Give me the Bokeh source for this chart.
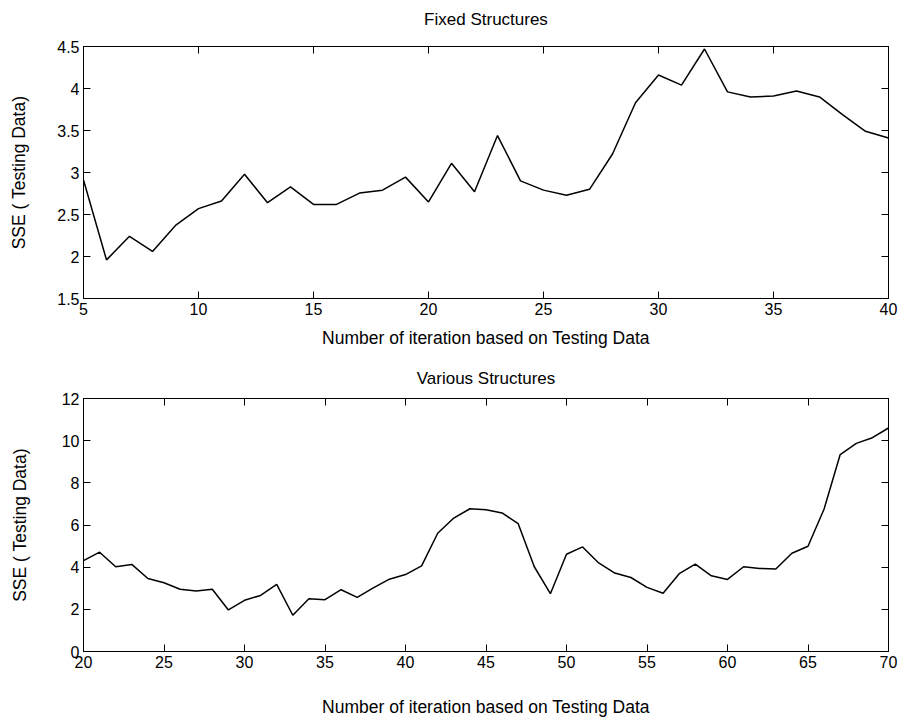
from bokeh.plotting import figure
from bokeh.models import Range1d, LinearAxis, FixedTicker, CustomJSTickFormatter
from bokeh.layouts import column
from bokeh.embed import file_html
from bokeh.resources import INLINE

# ---------------- data ----------------
fixed_title = "Fixed Structures"
fixed_iter = list(range(5, 41))
fixed_sse = [2.91, 1.96, 2.24, 2.06, 2.37, 2.57, 2.66, 2.98, 2.64, 2.83,
             2.62, 2.62, 2.755, 2.79, 2.945, 2.65, 3.11, 2.77,
             3.44, 2.90, 2.79, 2.73, 2.80, 3.22, 3.83, 4.16, 4.04, 4.47,
             3.96, 3.90, 3.91, 3.97, 3.90, 3.69, 3.49, 3.41]
fixed_xticks = [5, 10, 15, 20, 25, 30, 35, 40]
fixed_yticks = [1.5, 2, 2.5, 3, 3.5, 4, 4.5]

various_title = "Various Structures"
various_iter = list(range(20, 71))
various_sse = [4.31, 4.71, 4.02, 4.13, 3.46, 3.26, 2.95, 2.87, 2.95, 1.97,
               2.43, 2.66, 3.18, 1.72, 2.50, 2.46, 2.93, 2.57, 3.02, 3.43,
               3.65, 4.06, 5.61, 6.33, 6.77,
               6.72, 6.57, 6.06, 4.02, 2.74, 4.61, 4.96, 4.20, 3.72, 3.51,
               3.04, 2.76, 3.69, 4.14, 3.59, 3.42, 4.02, 3.94, 3.91, 4.66,
               4.99, 6.76, 9.34, 9.87, 10.14, 10.60]
various_xticks = [20, 25, 30, 35, 40, 45, 50, 55, 60, 65, 70]
various_yticks = [0, 2, 4, 6, 8, 10, 12]

x_label = "Number of iteration based on Testing Data"
y_label = "SSE ( Testing Data)"

FONT = "Liberation Sans"


def make_panel(title, xs, ys, xticks, yticks, height, top, bottom,
               title_standoff, xlabel_standoff, ylabel_standoff):
    p = figure(width=898, height=height, output_backend="svg",
               toolbar_location=None, tools="",
               x_range=Range1d(xticks[0], xticks[-1]),
               y_range=Range1d(yticks[0], yticks[-1]),
               min_border_left=83, min_border_right=10,
               min_border_top=top, min_border_bottom=bottom)
    p.background_fill_color = "white"
    p.border_fill_color = "white"
    p.outline_line_color = "black"
    p.xgrid.visible = False
    p.ygrid.visible = False

    fmt = CustomJSTickFormatter(code="return tick.toString();")
    blank = CustomJSTickFormatter(code="return '';")

    p.line(xs, ys, line_color="black", line_width=1.5)

    # mirrored axes (ticks only); the top one carries the panel title
    top_axis = LinearAxis()
    right_axis = LinearAxis()
    p.add_layout(top_axis, "above")
    p.add_layout(right_axis, "right")

    for ax in p.xaxis:
        ax.ticker = FixedTicker(ticks=xticks)
    for ax in p.yaxis:
        ax.ticker = FixedTicker(ticks=yticks)

    for ax in p.axis:
        ax.formatter = fmt
        ax.axis_line_color = "black"
        ax.axis_line_width = 1
        ax.major_tick_line_color = "black"
        ax.major_tick_in = 7
        ax.major_tick_out = 0
        ax.minor_tick_line_color = None
        ax.major_label_text_font = FONT
        ax.major_label_text_font_size = "16px"
        ax.major_label_text_color = "black"
        ax.major_label_standoff = 4
        ax.axis_label_text_font = FONT
        ax.axis_label_text_font_size = "17.5px"
        ax.axis_label_text_font_style = "normal"
        ax.axis_label_text_color = "black"

    for ax in (top_axis, right_axis):
        ax.formatter = blank
        ax.major_label_standoff = 0

    top_axis.axis_label = title
    top_axis.axis_label_text_font_size = "17px"
    top_axis.axis_label_standoff = title_standoff

    p.below[0].axis_label = x_label
    p.below[0].axis_label_standoff = xlabel_standoff
    p.left[0].axis_label = y_label
    p.left[0].axis_label_standoff = ylabel_standoff
    return p


p1 = make_panel(fixed_title, fixed_iter, fixed_sse, fixed_xticks, fixed_yticks,
                height=350, top=46, bottom=51,
                title_standoff=18, xlabel_standoff=10, ylabel_standoff=25)
p2 = make_panel(various_title, various_iter, various_sse, various_xticks, various_yticks,
                height=369, top=48, bottom=67,
                title_standoff=11, xlabel_standoff=26, ylabel_standoff=29)

layout = column(p1, p2, spacing=0)

open("out.html", "w").write(file_html(layout, INLINE))
